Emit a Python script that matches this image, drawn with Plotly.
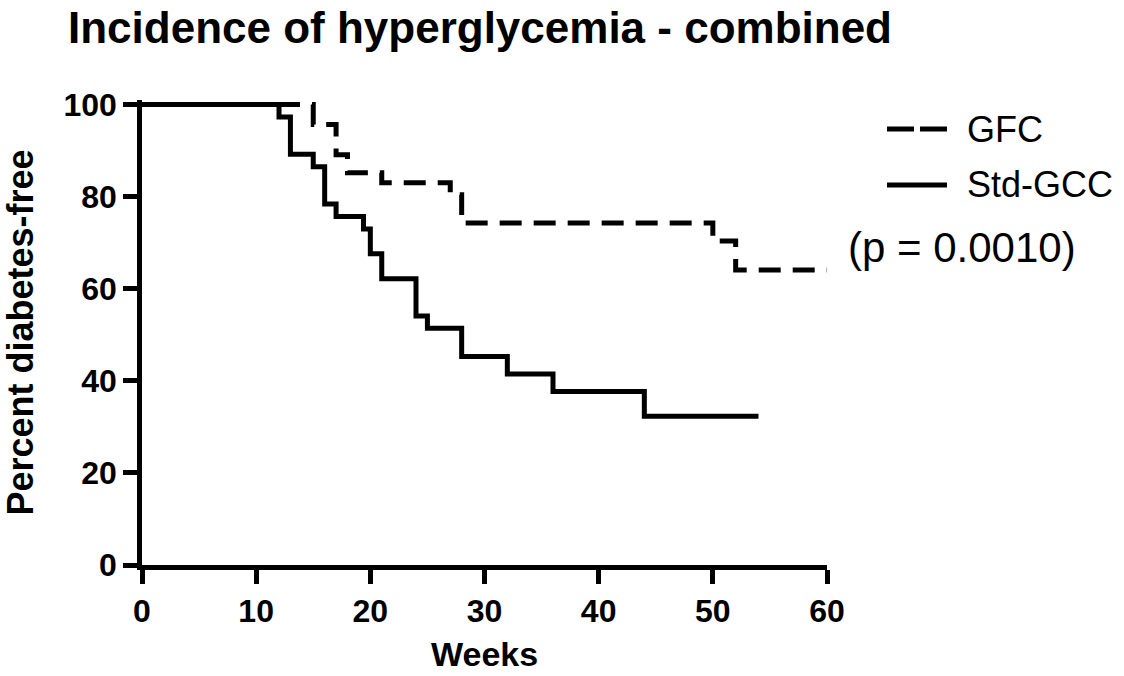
import plotly.graph_objects as go

# ---- data ----
std_weeks = [0, 12, 13, 15, 16, 17, 19.4, 20, 21, 24, 25, 28, 32, 36, 44, 54]
std_pct = [100, 97.3, 89.2, 86.5, 78.4, 75.7, 73.0, 67.6, 62.2, 54.1, 51.4, 45.3, 41.5, 37.7, 32.3, 32.3]

gfc_weeks = [0, 15, 17, 18, 21, 27, 28, 50, 52, 60]
gfc_pct = [100, 95.7, 89.1, 85.2, 83.0, 80.4, 74.3, 70.4, 64.1, 64.1]

x_ticks = [0, 10, 20, 30, 40, 50, 60]
y_ticks = [0, 20, 40, 60, 80, 100]

series_names = ["GFC", "Std-GCC"]
p_text = "(p = 0.0010)"
title_text = "Incidence of hyperglycemia - combined"
x_title = "Weeks"
y_title = "Percent diabetes-free"

FONT = "Liberation Sans, Arial, Helvetica, sans-serif"
W, H = 1124, 676
L, R, T, B = 142, 297, 100, 111
plot_w = W - L - R
plot_h = H - T - B


def px_x(px):
    return (px - L) / plot_w


def px_y(py):
    return (H - B - py) / plot_h


fig = go.Figure()
fig.add_trace(go.Scatter(x=gfc_weeks, y=gfc_pct, mode="lines", name=series_names[0],
                         line=dict(color="black", width=5, shape="hv", dash="22px,12px"),
                         showlegend=False))
fig.add_trace(go.Scatter(x=std_weeks, y=std_pct, mode="lines", name=series_names[1],
                         line=dict(color="black", width=5, shape="hv"),
                         showlegend=False))

axis_common = dict(showline=True, linecolor="black", linewidth=4.5, ticks="outside",
                   ticklen=14, tickwidth=4.5, tickcolor="black", showgrid=False,
                   zeroline=False, mirror=False,
                   tickfont=dict(family=FONT, size=32, color="black", weight="bold"))

fig.update_xaxes(range=[0, 60], tickvals=x_ticks, ticktext=[str(v) for v in x_ticks],
                 **axis_common)
fig.update_yaxes(range=[0, 101], tickvals=y_ticks, ticktext=[str(v) for v in y_ticks],
                 title=dict(text=y_title,
                            font=dict(family=FONT, size=36, color="black", weight="bold"),
                            standoff=20),
                 **axis_common)

# legend drawn manually
shapes = [
    dict(type="line", xref="paper", yref="paper", x0=px_x(887), x1=px_x(947),
         y0=px_y(129), y1=px_y(129), line=dict(color="black", width=5, dash="27px,6px")),
    dict(type="line", xref="paper", yref="paper", x0=px_x(887), x1=px_x(947),
         y0=px_y(185), y1=px_y(185), line=dict(color="black", width=5)),
]
annotations = [
    dict(text=series_names[0], xref="paper", yref="paper", x=px_x(965), y=px_y(129),
         xanchor="left", yanchor="middle", showarrow=False,
         font=dict(family=FONT, size=36, color="black")),
    dict(text=series_names[1], xref="paper", yref="paper", x=px_x(965), y=px_y(185),
         xanchor="left", yanchor="middle", showarrow=False,
         font=dict(family=FONT, size=36, color="black")),
    dict(text=p_text, xref="paper", yref="paper", x=px_x(846), y=px_y(247),
         xanchor="left", yanchor="middle", showarrow=False,
         font=dict(family=FONT, size=42, color="black")),
    dict(text=x_title, xref="paper", yref="paper", x=0.5, y=px_y(654),
         xanchor="center", yanchor="middle", showarrow=False,
         font=dict(family=FONT, size=34, color="black", weight="bold")),
]

fig.update_layout(
    width=W, height=H,
    margin=dict(l=L, r=R, t=T, b=B, autoexpand=False),
    paper_bgcolor="white", plot_bgcolor="white",
    title=dict(text=title_text, xref="container", yref="container",
               x=68 / W, xanchor="left", y=1 - 28 / H, yanchor="middle",
               font=dict(family=FONT, size=44, color="black", weight="bold")),
    shapes=shapes, annotations=annotations,
    showlegend=False,
)

fig.write_html("out.html",
               config={"displayModeBar": False},
               post_script="document.body.style.margin='0';document.body.style.overflow='hidden';")
